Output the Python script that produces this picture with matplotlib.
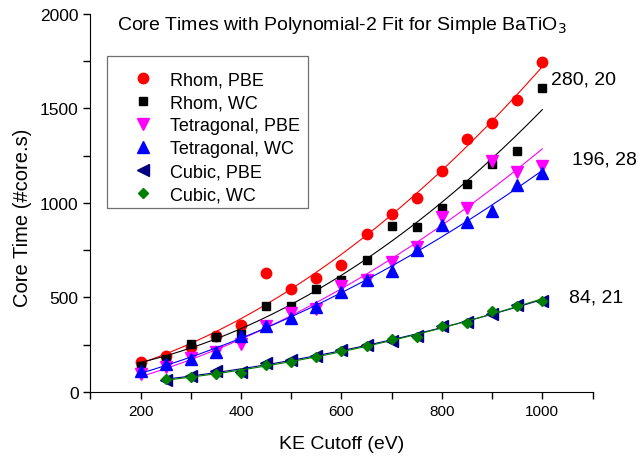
import numpy as np
import matplotlib.pyplot as plt
from matplotlib.patches import Rectangle
from matplotlib.ticker import MultipleLocator

plt.rcParams['font.family'] = ['Liberation Sans', 'DejaVu Sans']

# KE cutoff (eV)
ke_all = [200, 250, 300, 350, 400, 450, 500, 550, 600, 650, 700, 750, 800, 850, 900, 950, 1000]
ke_cubic = [250, 300, 350, 400, 450, 500, 550, 600, 650, 700, 750, 800, 850, 900, 950, 1000]

# core times (#core.s)
rhom_pbe = [160, 190, 236, 295, 354, 628, 543, 605, 674, 836, 942, 1025, 1171, 1339, 1422, 1545, 1748]
rhom_wc = [138, 175, 254, 290, 307, 457, 457, 545, 594, 700, 880, 871, 973, 1099, 1206, 1273, 1607]
tet_pbe = [95, 132, 178, 213, 254, 348, 418, 439, 559, 594, 686, 766, 928, 973, 1224, 1162, 1197]
tet_wc = [111, 148, 175, 210, 295, 348, 390, 448, 527, 594, 642, 753, 885, 898, 956, 1095, 1159]
cub_pbe = [63, 86, 113, 107, 153, 171, 189, 224, 249, 271, 295, 348, 372, 413, 460, 483]
cub_wc = [70, 78, 95, 102, 143, 160, 183, 218, 243, 280, 290, 348, 365, 430, 455, 483]

labels = ['Rhom, PBE', 'Rhom, WC', 'Tetragonal, PBE', 'Tetragonal, WC', 'Cubic, PBE', 'Cubic, WC']
notes = ['280, 20', '196, 28', '84, 21']

series = [
    (ke_all, rhom_pbe, 'red', 'o', 7.5),
    (ke_all, rhom_wc, 'black', 's', 6),
    (ke_all, tet_pbe, 'magenta', 'v', 8),
    (ke_all, tet_wc, 'blue', '^', 8),
    (ke_cubic, cub_pbe, 'navy', '<', 8),
    (ke_cubic, cub_wc, 'green', 'D', 5.5),
]

fig = plt.figure(figsize=(6.38, 4.6), dpi=100)
ax = fig.add_axes([0.1418, 0.1457, 0.7869, 0.8217])

for (x, y, c, m, ms), lab in zip(series, labels):
    ax.plot(x, y, linestyle='none', marker=m, color=c, markersize=ms, label=lab)
    # polynomial-2 fit
    p = np.polyfit(x, y, 2)
    xf = np.linspace(x[0], x[-1], 200)
    ax.plot(xf, np.polyval(p, xf), color=c, lw=0.8)

ax.set_xlim(100, 1100)
ax.set_ylim(0, 2000)
ax.xaxis.set_major_locator(MultipleLocator(200))
ax.xaxis.set_minor_locator(MultipleLocator(100))
ax.yaxis.set_major_locator(MultipleLocator(500))
ax.yaxis.set_minor_locator(MultipleLocator(250))
ax.tick_params(which='both', direction='out', length=5, width=1)
ax.tick_params(axis='x', labelsize=11)
ax.tick_params(axis='y', labelsize=12.5)
ax.spines['top'].set_visible(False)
ax.spines['right'].set_visible(False)

ax.set_xlabel('KE Cutoff (eV)', fontsize=14)
ax.set_ylabel('Core Time (#core.s)', fontsize=14.5)
ax.xaxis.set_label_coords(0.5, -0.114)
ax.yaxis.set_label_coords(-0.117, 0.463)

ax.text(0.5, 0.972, 'Core Times with Polynomial-2 Fit for Simple BaTiO$_3$',
        transform=ax.transAxes, ha='center', va='center', fontsize=14)

ax.text(1017, 1655, notes[0], fontsize=14, va='center')
ax.text(1059, 1233, notes[1], fontsize=14, va='center')
ax.text(1053, 503, notes[2], fontsize=14, va='center')

# legend box drawn on its own, entries without frame
ax.add_patch(Rectangle((0.0329, 0.4868), 0.4004, 0.402, transform=ax.transAxes,
                       fill=False, edgecolor='#707070', lw=0.9))
ax.legend(loc='upper left', bbox_to_anchor=(0.0677, 0.848), fontsize=13,
          frameon=False, borderpad=0, borderaxespad=0,
          handletextpad=0.5, labelspacing=0.33, handlelength=2.0)

fig.savefig('out.png', dpi=100)
